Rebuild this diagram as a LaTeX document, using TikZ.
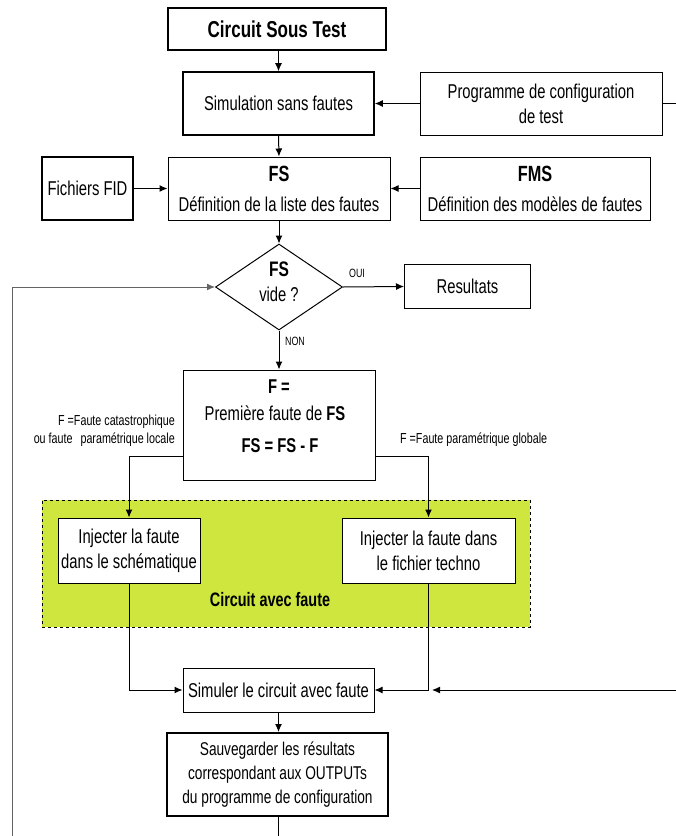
\documentclass[tikz,border=0pt]{standalone}
\usepackage{fontspec}
\setmainfont{Liberation Sans}[FakeStretch=0.74]
\usetikzlibrary{arrows.meta,shapes.geometric}
\definecolor{zonegreen}{RGB}{206,230,62}
\definecolor{loopgray}{RGB}{100,100,100}
\begin{document}
\begin{tikzpicture}[x=1pt,y=-1pt,
  base/.style={font=\fontsize{20}{25}\selectfont},
  box/.style={draw, line width=1pt, fill=white, inner sep=0pt, align=center, base},
  heavy/.style={box, line width=2pt},
  plain/.style={inner sep=0pt, align=center, base},
  boldtxt/.style={inner sep=0pt, align=center, font=\fontsize{20}{25}\selectfont\bfseries},
  lbl/.style={font=\fontsize{14.5}{17}\selectfont, inner sep=0pt},
  tiny/.style={font=\fontsize{12}{14}\selectfont, inner sep=0pt},
  link/.style={line width=1pt},
  arr/.style={link, -{Latex[length=8pt,width=7pt]}},
]
\useasboundingbox (0,0) rectangle (676,836);

% faulty-circuit zone (drawn first, behind the injection boxes)
\node[draw, dashed, line width=1pt, fill=zonegreen, minimum width=488pt, minimum height=127pt, inner sep=0pt] (zone) at (286,563.5) {};
\node[boldtxt, font=\fontsize{19.5}{25}\selectfont\bfseries] (zonelbl) at (270,600) {Circuit avec faute};

% main boxes
\node[heavy, minimum width=218pt, minimum height=42pt, font=\fontsize{23}{25}\selectfont\bfseries] (cst) at (277,29) {Circuit Sous Test};
\node[box, line width=1.6pt, minimum width=191pt, minimum height=63pt] (sim) at (278.5,103.5) {Simulation sans fautes};
\node[box, minimum width=242pt, minimum height=63pt] (prog) at (541,103.5) {Programme de configuration\\de test};
\node[heavy, minimum width=91pt, minimum height=63pt] (fid) at (87.5,188.5) {Fichiers FID};
\node[box, minimum width=222pt, minimum height=63pt] (fs) at (279,188.5) {{\fontsize{22}{25}\selectfont\bfseries FS}\\[5pt]Définition de la liste des fautes};
\node[box, minimum width=230pt, minimum height=63pt] (fms) at (535,188.5) {{\fontsize{22}{25}\selectfont\bfseries FMS}\\[5pt]Définition des modèles de fautes};

% decision
\node[draw, line width=1pt, diamond, aspect=1.5, minimum width=127pt, minimum height=86pt, inner sep=0pt] (dia) at (279,287) {};
\node[plain] (diatxt) at (279,282) {{\fontsize{21}{25}\selectfont\bfseries FS}\\vide ?};
\node[box, minimum width=126pt, minimum height=44pt] (res) at (467.5,286.5) {Resultats};
\node[tiny] (oui) at (357,273) {OUI};
\node[tiny] (non) at (295,341) {NON};

% current fault
\node[box, minimum width=192pt, minimum height=110pt] (fbox) at (279,425) {};
\node[boldtxt] (feq) at (279,387) {F =};
\node[plain] (ffirst) at (275,413) {Première faute de \textbf{FS}};
\node[boldtxt] (fupd) at (280,446) {FS = FS - F};
\node[lbl, anchor=east] (lcat) at (175,422) {F =Faute catastrophique};
\node[lbl, anchor=east] (lloc) at (175,440) {ou faute\hspace{8pt}paramétrique locale};
\node[lbl, anchor=west] (lglob) at (400,440) {F =Faute paramétrique globale};

% fault injection
\node[box, minimum width=142pt, minimum height=65pt] (inj1) at (129,550.5) {Injecter la faute\\dans le schématique};
\node[box, minimum width=173pt, minimum height=65pt] (inj2) at (428.5,550.5) {Injecter la faute dans\\le fichier techno};

% simulation and saving
\node[box, minimum width=191pt, minimum height=44pt] (simf) at (278.5,690) {Simuler le circuit avec faute};
\node[heavy, minimum width=221pt, minimum height=83pt, font=\fontsize{18.5}{24}\selectfont] (sauv) at (277.5,774.5) {Sauvegarder les résultats\\correspondant aux OUTPUTs\\du programme de configuration};

% free ends at the border
\coordinate (edgeA) at (676,103.5);
\coordinate (edgeB) at (676,690);
\coordinate (tapB) at (432,690);
\coordinate (loopEnd) at (12,836);
\coordinate (outEnd) at (278,836);

% connectors
\draw[arr] (sim.north |- cst.south) -- (sim.north);
\draw[arr] (prog.west) -- (sim.east);
\draw[link] (prog.east) -- (edgeA);
\draw[arr] (sim.south) -- (fs.north);
\draw[arr] (fid.east) -- (fs.west);
\draw[arr] (fms.west) -- (fs.east);
\draw[arr] (fs.south) -- (dia.north);
\draw[arr] (dia.east) -- (res.west);
\draw[arr] (dia.south) -- (fbox.north);
\draw[arr] ([yshift=-31pt]fbox.west) -| (inj1.north);
\draw[arr] ([yshift=-31pt]fbox.east) -| (inj2.north);
\draw[arr] (inj1.south) |- (simf.west);
\draw[arr] (inj2.south) |- (simf.east);
\draw[arr] (edgeB) -- (tapB);
\draw[arr] (simf.south) -- (simf.south |- sauv.north);
\draw[link] (sauv.south -| outEnd) -- (outEnd);
\draw[arr, loopgray] (loopEnd) |- (dia.west);
\end{tikzpicture}
\end{document}
